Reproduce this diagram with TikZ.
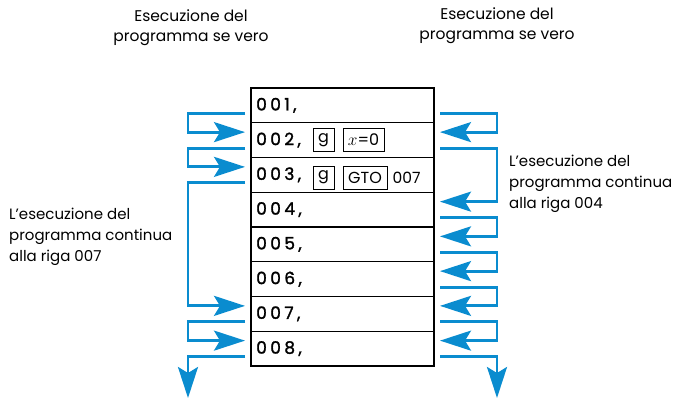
\documentclass[tikz,border=0pt]{standalone}
\usepackage{fontspec}
\setmainfont{Poppins}
\newfontfamily\rowfont{Poppins}[LetterSpace=20.0, FakeBold=1.5]
\usetikzlibrary{positioning, arrows.meta, calc}
\definecolor{flowblue}{HTML}{0A8CCF}
\tikzset{
	rowbox/.style={draw, line width=1.3pt, minimum width=183pt, minimum height=34.75pt, outer sep=0pt, inner sep=0pt}
}
\tikzset{
	rowtext/.style={font=\rowfont\fontsize{17}{17}\selectfont, anchor=west, inner sep=0pt}
}
\tikzset{
	keybox/.style={draw, line width=1pt, minimum height=23pt, inner sep=2pt, font=\fontsize{16}{16}\selectfont}
}
\tikzset{
	flow/.style={flowblue, line width=2.8pt, -{Stealth[length=31pt, width=20pt, inset=6pt]}}
}
\tikzset{
	toptext/.style={font=\fontsize{15.5}{20}\selectfont, align=center, anchor=north, inner sep=0pt},
	notetext/.style={font=\fontsize{15}{21}\selectfont, align=left, anchor=north west, inner sep=0pt}
}

\begin{document}
\begin{tikzpicture}[x=1pt, y=-1pt]

	\useasboundingbox (0,0) rectangle (677,399);

	% program lines
	\begin{scope}
		\foreach \i in {1,...,8} {
			\node[rowbox] (r\i) at (342.5, {88+34.75*(\i-0.5)}) {};
			\node[rowtext] (t\i) at ([xshift=5pt]r\i.west) {00\i,};
		}

		\node[keybox, minimum width=21pt] (g2) at (323.5,140) {g};
		\node[keybox, minimum width=41pt, right=8pt of g2] (xz) {$x$=0};
		\node[keybox, minimum width=21pt] (g3) at (323.5,177.5) {g};
		\node[keybox, minimum width=44pt, right=8pt of g3] (gto) {GTO};
		\node[font=\fontsize{15.5}{15.5}\selectfont, inner sep=0pt, right=5pt of gto] (dst) {007};
	\end{scope}

	% execution paths
	\begin{scope}
		\coordinate (downL) at (188,398);
		\coordinate (downR) at (497,398);

		\foreach \a/\b in {1/2, 2/3, 3/7, 7/8}
			\draw[flow] ([xshift=-6pt,yshift=-8pt]r\a.west) -- ++(-57,0) |- ([xshift=-6pt,yshift=8pt]r\b.west);
		\draw[flow] ([xshift=-6pt,yshift=-8pt]r8.west) -| (downL);

		\foreach \a/\b in {1/2, 2/4, 4/5, 5/6, 6/7, 7/8}
			\draw[flow] ([xshift=6pt,yshift=-8pt]r\a.east) -- ++(57,0) |- ([xshift=6pt,yshift=8pt]r\b.east);
		\draw[flow] ([xshift=6pt,yshift=-8pt]r8.east) -| (downR);
	\end{scope}

	% captions
	\node[toptext] (capL) at (191,10) {Esecuzione del\\programma se vero};
	\node[toptext] (capR) at (497,8) {Esecuzione del\\programma se vero};
	\node[notetext] (noteL) at (9,208) {L’esecuzione del\\programma continua\\alla riga 007};
	\node[notetext] (noteR) at (509,155) {L’esecuzione del\\programma continua\\alla riga 004};

\end{tikzpicture}
\end{document}
